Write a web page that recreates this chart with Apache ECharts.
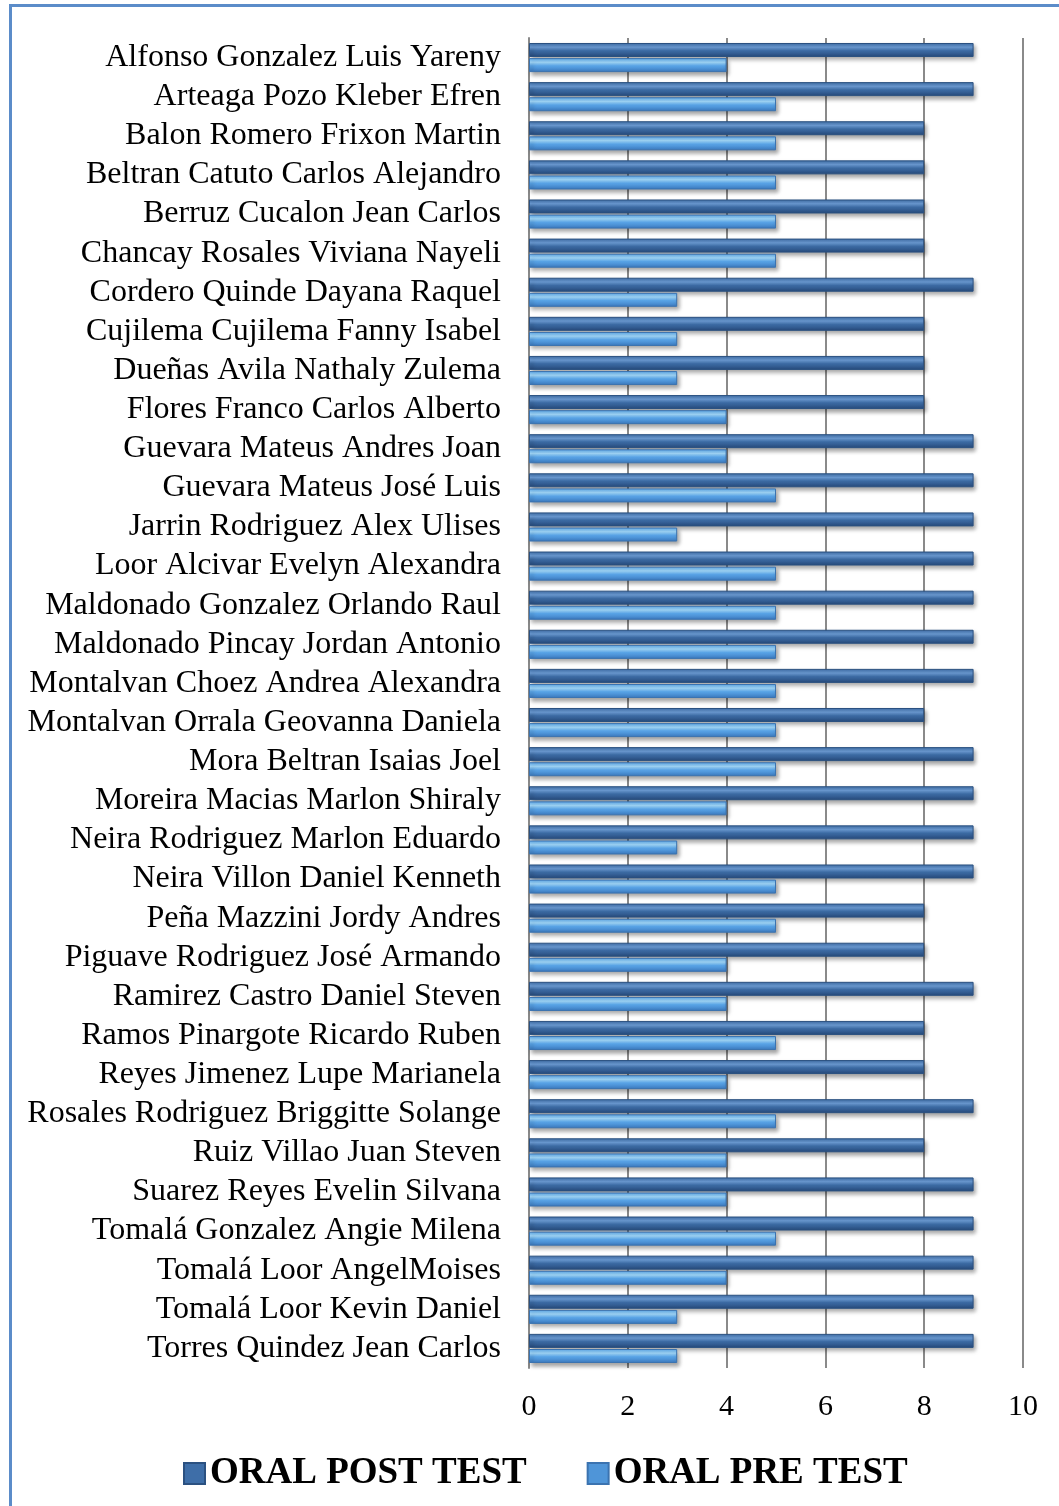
<!DOCTYPE html>
<html>
<head>
<meta charset="utf-8">
<script src="https://cdn.jsdelivr.net/npm/echarts@6/dist/echarts.min.js"></script>
<style>
  html, body { margin: 0; padding: 0; background: #fff; }
  #wrap { position: relative; width: 1059px; height: 1506px; }
  #chart { width: 1059px; height: 1506px; }
  .frame {
    position: absolute; left: 9px; top: 4px; right: 0; bottom: 0;
    border-left: 3px solid #5b8cc9; border-top: 3px solid #5b8cc9;
    pointer-events: none;
  }
</style>
</head>
<body>
<div id="wrap">
  <div id="chart"></div>
  <div class="frame"></div>
</div>
<script>
var students = [
  'Alfonso Gonzalez Luis Yareny', 'Arteaga Pozo Kleber Efren', 'Balon Romero Frixon Martin',
  'Beltran Catuto Carlos Alejandro', 'Berruz Cucalon Jean Carlos', 'Chancay Rosales Viviana Nayeli',
  'Cordero Quinde Dayana Raquel', 'Cujilema Cujilema Fanny Isabel', 'Dueñas Avila Nathaly Zulema',
  'Flores Franco Carlos Alberto', 'Guevara Mateus Andres Joan', 'Guevara Mateus José Luis',
  'Jarrin Rodriguez Alex Ulises', 'Loor Alcivar Evelyn Alexandra', 'Maldonado Gonzalez Orlando Raul',
  'Maldonado Pincay Jordan Antonio', 'Montalvan Choez Andrea Alexandra', 'Montalvan Orrala Geovanna Daniela',
  'Mora Beltran Isaias Joel', 'Moreira Macias Marlon Shiraly', 'Neira Rodriguez Marlon Eduardo',
  'Neira Villon Daniel Kenneth', 'Peña Mazzini Jordy Andres', 'Piguave Rodriguez José Armando',
  'Ramirez Castro Daniel Steven', 'Ramos Pinargote Ricardo Ruben', 'Reyes Jimenez Lupe Marianela',
  'Rosales Rodriguez Briggitte Solange', 'Ruiz Villao Juan Steven', 'Suarez Reyes Evelin Silvana',
  'Tomalá Gonzalez Angie Milena', 'Tomalá Loor AngelMoises', 'Tomalá Loor Kevin Daniel',
  'Torres Quindez Jean Carlos'
];
var postTest = [9, 9, 8, 8, 8, 8, 9, 8, 8, 8, 9, 9, 9, 9, 9, 9, 9, 8, 9, 9, 9, 9, 8, 8, 9, 8, 8, 9, 8, 9, 9, 9, 9, 9];
var preTest  = [4, 5, 5, 5, 5, 5, 3, 3, 3, 4, 4, 5, 3, 5, 5, 5, 5, 5, 5, 4, 3, 5, 5, 4, 4, 5, 4, 5, 4, 4, 5, 4, 3, 3];
var xTicks = [0, 2, 4, 6, 8, 10];

var serif = '"Liberation Serif", "DejaVu Serif", serif';

function barGrad(top, mid, bottom) {
  return new echarts.graphic.LinearGradient(0, 0, 0, 1, [
    { offset: 0, color: top },
    { offset: 0.3, color: mid },
    { offset: 0.55, color: top },
    { offset: 1, color: bottom }
  ]);
}

var chart = echarts.init(document.getElementById('chart'));
chart.setOption({
  animation: false,
  grid: { left: 529, right: 36, top: 38, bottom: 138 },
  legend: {
    left: 178, top: 1450,
    itemWidth: 21, itemHeight: 21, itemGap: 60,
    icon: 'rect',
    textStyle: { fontFamily: serif, fontSize: 37, fontWeight: 'bold', color: '#000' },
    data: [
      { name: 'ORAL POST TEST', itemStyle: { color: '#3e6ea8' } },
      { name: 'ORAL PRE TEST', itemStyle: { color: '#4f95d8' } }
    ]
  },
  xAxis: {
    type: 'value', min: xTicks[0], max: xTicks[xTicks.length - 1], interval: 2,
    axisLine: { show: false },
    axisTick: { show: false },
    axisLabel: { fontFamily: serif, fontSize: 30, color: '#000', margin: 24 },
    splitLine: { lineStyle: { color: '#8a8a8a', width: 2 } }
  },
  yAxis: {
    type: 'category', inverse: true, data: students,
    axisLine: { lineStyle: { color: '#8a8a8a', width: 2 } },
    axisTick: { show: false },
    axisLabel: { interval: 0, fontFamily: serif, fontSize: 32, color: '#000', margin: 28 }
  },
  series: [
    {
      name: 'ORAL POST TEST', type: 'bar', data: postTest,
      barWidth: 14, barGap: '8%',
      itemStyle: {
        color: barGrad('#3d6ca5', '#6e9fd9', '#26497a'),
        borderColor: '#2b5181', borderWidth: 1,
        shadowColor: 'rgba(0,0,0,0.35)', shadowBlur: 4, shadowOffsetX: 2, shadowOffsetY: 3
      }
    },
    {
      name: 'ORAL PRE TEST', type: 'bar', data: preTest,
      barWidth: 14, barGap: '8%',
      itemStyle: {
        color: barGrad('#5aa5e8', '#a4dcff', '#3a78bd'),
        borderColor: '#3b73b0', borderWidth: 1,
        shadowColor: 'rgba(0,0,0,0.35)', shadowBlur: 4, shadowOffsetX: 2, shadowOffsetY: 3
      }
    }
  ]
});
</script>
</body>
</html>
